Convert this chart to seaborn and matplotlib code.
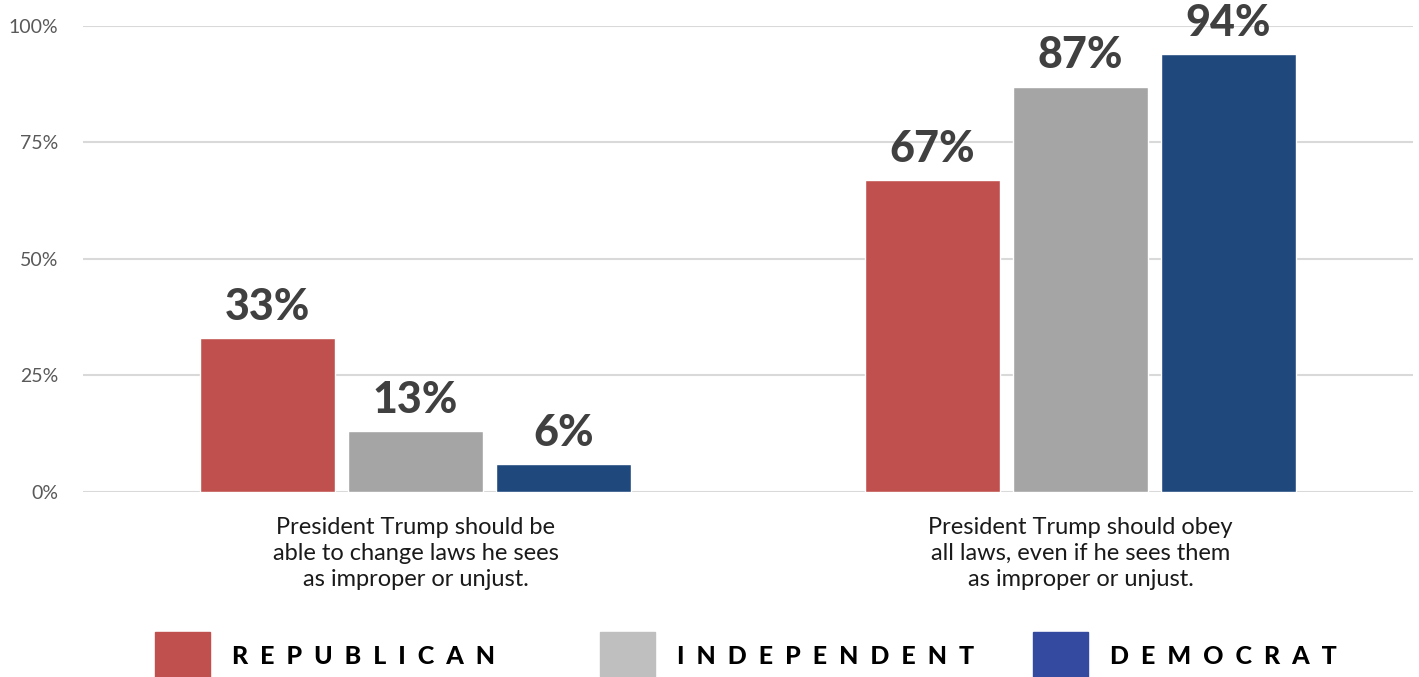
import pandas as pd
import numpy as np
import matplotlib
matplotlib.use("Agg")
import matplotlib.pyplot as plt
import seaborn as sns
from matplotlib.patches import Rectangle

categories = [
    "President Trump should be\nable to change laws he sees\nas improper or unjust.",
    "President Trump should obey\nall laws, even if he sees them\nas improper or unjust.",
]
parties = ["Republican", "Independent", "Democrat"]
republican = [33, 67]
independent = [13, 87]
democrat = [6, 94]
yticks = [0, 25, 50, 75, 100]

bar_colors = ["#C0504D", "#A5A5A5", "#1F497D"]
legend_colors = ["#C0504D", "#BFBFBF", "#3449A0"]

df = pd.DataFrame({
    "category": categories * 3,
    "party": [p for p in parties for _ in categories],
    "value": republican + independent + democrat,
})

sns.set_theme(style="white")
plt.rcParams["font.family"] = ["Lato", "DejaVu Sans"]

fig = plt.figure(figsize=(14.19, 6.77), dpi=100)
ax = fig.add_axes([0.0585, 0.2733, 0.9373, 0.6883])

sns.barplot(data=df, x="category", y="value", hue="party", palette=bar_colors,
            width=0.668, gap=0.088, saturation=1, ax=ax, legend=False, zorder=3)

for cont in ax.containers:
    ax.bar_label(cont, labels=[f"{v:.0f}%" for v in cont.datavalues],
                 padding=8, fontsize=31, fontweight="black", color="#404040")

ax.set_xlim(-0.5, 1.5)
ax.set_ylim(0, 100)
ax.set_yticks(yticks)
ax.set_yticklabels([f"{t}%" for t in yticks], fontsize=14, color="#595959")
ax.yaxis.grid(True, color="#D9D9D9", lw=1.5, zorder=0)
ax.set_axisbelow(True)
ax.tick_params(axis="y", length=0, pad=18)
ax.tick_params(axis="x", length=0, pad=18)
ax.set_xticks([0, 1])
ax.set_xticklabels(categories, fontsize=17, color="#1a1a1a", linespacing=1.3)
ax.set_xlabel("")
ax.set_ylabel("")
sns.despine(ax=ax, left=True, bottom=True)

# legend drawn by hand at the bottom
leg_x = [155, 600, 1033]
for x, p, c in zip(leg_x, parties, legend_colors):
    fig.add_artist(Rectangle((x / 1419, 0), 55 / 1419, 45 / 677,
                             transform=fig.transFigure, color=c))
    fig.text((x + 77) / 1419, 20 / 677, "  ".join(p.upper()), fontsize=18,
             fontweight="black", color="black", va="center", ha="left")

fig.savefig("out.png", dpi=100)
